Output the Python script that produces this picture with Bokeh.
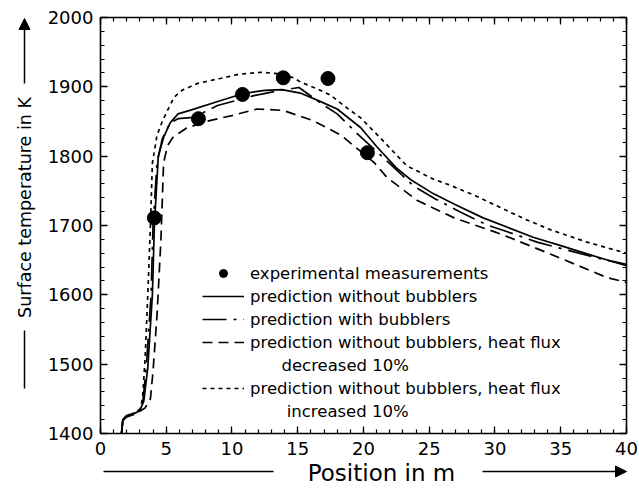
import math
from bokeh.plotting import figure
from bokeh.models import (LinearAxis, SingleIntervalTicker, Range1d, Legend, LegendItem,
                          Label, Arrow, NormalHead, CustomJSTickFormatter)
from bokeh.embed import file_html
from bokeh.resources import INLINE

# ---- data ----
meas_x = [4.1, 7.45, 10.8, 13.9, 17.3, 20.3]
meas_y = [1711, 1854, 1889, 1913, 1912, 1805]

base_x = [1.6, 1.7, 2.0, 2.5, 3.0, 3.3, 3.6, 3.95, 4.1, 4.4, 4.8, 5.3, 5.9, 6.8, 9.1, 10.8,
          12.5, 13.8, 15.2, 16.7, 18.0, 19.8, 21.0, 22.5, 23.6, 25.3, 27.0, 29.1, 31.0,
          32.9, 35.0, 37.0, 40.0]
base_y = [1400, 1418, 1425, 1428, 1433, 1447, 1495, 1600, 1700, 1800, 1827, 1848, 1861, 1866,
          1880, 1890, 1895, 1896, 1891, 1879, 1868, 1841, 1814, 1783, 1766, 1746, 1730,
          1711, 1697, 1683, 1671, 1659, 1642]

bub_x = [1.6, 1.7, 2.0, 2.5, 3.0, 3.25, 3.5, 3.85, 4.0, 4.3, 4.7, 5.3, 5.9, 7.1, 8.9, 11.6,
         13.7, 15.1, 16.7, 18.0, 19.5, 21.5, 22.8, 23.8, 25.5, 27.4, 29.5, 31.4, 33.2,
         35.0, 38.0, 40.0]
bub_y = [1400, 1420, 1426, 1429, 1434, 1450, 1500, 1600, 1700, 1790, 1825, 1848, 1854, 1856,
         1873, 1887, 1895, 1899, 1877, 1861, 1833, 1798, 1775, 1757, 1738, 1719, 1700,
         1688, 1676, 1667, 1652, 1644]

dec_x = [1.6, 1.7, 2.0, 2.5, 3.0, 3.4, 3.8, 4.0, 4.3, 4.6, 4.8, 5.1, 5.5, 6.5, 8.0, 10.1,
         11.9, 13.9, 16.2, 18.3, 20.8, 21.8, 24.1, 26.9, 30.4, 34.2, 38.5, 40.0]
dec_y = [1400, 1418, 1424, 1427, 1432, 1437, 1450, 1490, 1570, 1680, 1790, 1815, 1827, 1840,
         1850, 1859, 1868, 1866, 1851, 1830, 1791, 1769, 1736, 1711, 1688, 1659, 1625, 1618]

inc_x = [1.6, 1.7, 2.0, 2.5, 3.0, 3.2, 3.4, 3.6, 3.8, 3.95, 4.3, 4.7, 5.1, 5.6, 6.2, 7.4,
         9.1, 10.5, 12.2, 13.5, 14.7, 15.2, 16.5, 17.5, 18.5, 19.8, 21.5, 23.3, 25.3,
         26.6, 28.5, 30.4, 32.3, 34.2, 37.0, 40.0]
inc_y = [1400, 1420, 1426, 1429, 1435, 1450, 1510, 1600, 1700, 1790, 1830, 1850, 1866, 1885,
         1895, 1905, 1912, 1918, 1921, 1919, 1913, 1907, 1897, 1888, 1873, 1855, 1822,
         1786, 1767, 1758, 1743, 1726, 1709, 1694, 1676, 1660]

x_ticks_min, x_ticks_max = 0, 40
y_ticks_min, y_ticks_max = 1400, 2000

FONT = "DejaVu Sans"
W, H = 639, 490

# The frame fills the whole canvas so the axis titles/arrows outside the box are not clipped;
# the box itself is drawn by four axes placed at fixed locations.
p = figure(width=W, height=H, output_backend="svg", toolbar_location=None,
           x_range=Range1d(-7.60, 40.99), y_range=Range1d(1317.8, 2024.5),
           min_border=0, x_axis_location=None, y_axis_location=None)
p.grid.visible = False
p.outline_line_color = None
p.background_fill_color = "white"
p.border_fill_color = "white"


def make_axis(kind, loc, show_labels):
    if kind == "x":
        ax = LinearAxis(ticker=SingleIntervalTicker(interval=5, num_minor_ticks=5),
                        fixed_location=loc, bounds=(x_ticks_min, x_ticks_max))
    else:
        ax = LinearAxis(ticker=SingleIntervalTicker(interval=100, num_minor_ticks=5),
                        fixed_location=loc, bounds=(y_ticks_min, y_ticks_max))
    ax.axis_line_color = "black"
    ax.axis_line_width = 1.6
    ax.major_tick_in = 7
    ax.major_tick_out = 0
    ax.minor_tick_in = 4
    ax.minor_tick_out = 0
    ax.major_tick_line_width = 1.3
    ax.minor_tick_line_width = 1.2
    ax.major_tick_line_color = "black"
    ax.minor_tick_line_color = "black"
    if show_labels:
        ax.major_label_text_font = FONT
        ax.major_label_text_font_size = "18px"
        ax.major_label_text_color = "black"
        ax.major_label_standoff = 8 if kind == "x" else 7
    else:
        ax.formatter = CustomJSTickFormatter(code="return ''")
        ax.major_label_standoff = 0
    return ax


p.add_layout(make_axis("x", y_ticks_min, True), "below")
p.add_layout(make_axis("x", y_ticks_max, False), "above")
p.add_layout(make_axis("y", x_ticks_min, True), "left")
p.add_layout(make_axis("y", x_ticks_max, False), "right")

lw = 1.7
r_base = p.line(base_x, base_y, line_color="black", line_width=lw)
r_bub = p.line(bub_x, bub_y, line_color="black", line_width=lw, line_dash="24 7 3 7")
r_dec = p.line(dec_x, dec_y, line_color="black", line_width=lw, line_dash="10 6")
r_inc = p.line(inc_x, inc_y, line_color="black", line_width=lw, line_dash="4 4")
r_meas = p.scatter(meas_x, meas_y, size=14, fill_color="black", line_color="black")

# empty renderer for the legend's continuation lines (no glyph sample)
r_none = p.line([], [], line_alpha=0)

nb = "\u00a0"
items = [
    LegendItem(label="experimental measurements", renderers=[r_meas]),
    LegendItem(label="prediction without bubblers", renderers=[r_base]),
    LegendItem(label="prediction with bubblers", renderers=[r_bub]),
    LegendItem(label="prediction without bubblers, heat flux", renderers=[r_dec]),
    LegendItem(label=nb * 6 + "decreased 10%", renderers=[r_none]),
    LegendItem(label="prediction without bubblers, heat flux", renderers=[r_inc]),
    LegendItem(label=nb * 7 + "increased 10%", renderers=[r_none]),
]
leg = Legend(items=items, location=(202, 69))
leg.label_text_font = FONT
leg.label_text_font_size = "16.5px"
leg.label_text_color = "black"
leg.label_height = 20
leg.glyph_height = 20
leg.glyph_width = 42
leg.label_standoff = 6
leg.spacing = 3
leg.padding = 0
leg.margin = 0
leg.border_line_color = None
leg.background_fill_alpha = 0
p.add_layout(leg, "center")

# axis titles with arrow decorations (screen units, frame == canvas)
p.add_layout(Label(x=381, y=18, x_units="screen", y_units="screen", text="Position in m",
                   text_font=FONT, text_font_size="23px", text_align="center",
                   text_baseline="middle", text_color="black"))
p.add_layout(Arrow(x_start=103, y_start=19, x_end=273, y_end=19, start_units="screen",
                   end_units="screen", end=None, line_color="black", line_width=1.5))
p.add_layout(Arrow(x_start=482, y_start=19, x_end=626, y_end=19, start_units="screen",
                   end_units="screen", line_color="black", line_width=1.5,
                   end=NormalHead(size=11, fill_color="black", line_color="black")))

p.add_layout(Label(x=24, y=283, x_units="screen", y_units="screen",
                   text="Surface temperature in K", angle=math.pi / 2,
                   text_font=FONT, text_font_size="17.5px", text_align="center",
                   text_baseline="middle", text_color="black"))
p.add_layout(Arrow(x_start=24, y_start=102, x_end=24, y_end=160, start_units="screen",
                   end_units="screen", end=None, line_color="black", line_width=1.5))
p.add_layout(Arrow(x_start=24, y_start=407, x_end=24, y_end=472, start_units="screen",
                   end_units="screen", line_color="black", line_width=1.5,
                   end=NormalHead(size=11, fill_color="black", line_color="black")))

open("out.html", "w").write(file_html(p, INLINE))
